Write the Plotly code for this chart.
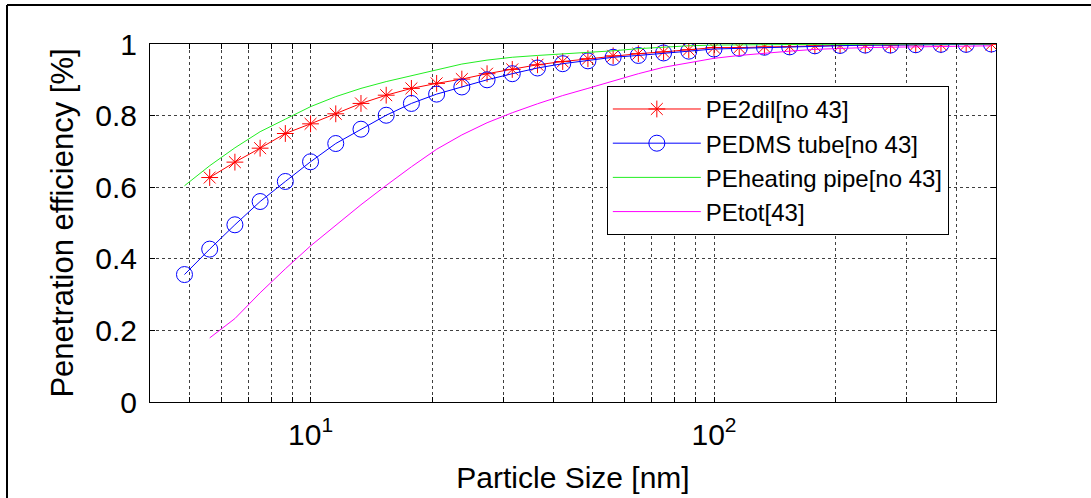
import numpy as np
import plotly.graph_objects as go

# Particle sizes: 16 channels per decade (nm)
k_blue = list(range(-5, 28))
k_red = list(range(-4, 28))
size_blue = [10 ** (1 + k / 16) for k in k_blue]
size_red = [10 ** (1 + k / 16) for k in k_red]
size_green = size_blue
size_mag = size_red

pe2dil = [0.627, 0.670, 0.709, 0.750, 0.777, 0.805, 0.834, 0.857, 0.876, 0.890,
          0.902, 0.917, 0.929, 0.942, 0.951, 0.959, 0.967, 0.973, 0.978, 0.984,
          0.990, 0.990, 0.992, 0.993, 0.995, 0.996, 0.997, 0.997, 0.998, 0.998,
          0.999, 0.999]
pedms = [0.356, 0.427, 0.495, 0.560, 0.616, 0.671, 0.722, 0.762, 0.801, 0.834,
         0.860, 0.880, 0.900, 0.917, 0.933, 0.945, 0.953, 0.963, 0.968, 0.975,
         0.980, 0.986, 0.988, 0.991, 0.992, 0.995, 0.996, 0.997, 0.997, 0.998,
         0.999, 0.999, 1.0]
peheat = [0.604, 0.660, 0.710, 0.755, 0.790, 0.825, 0.853, 0.876, 0.895, 0.912,
          0.927, 0.944, 0.955, 0.963, 0.968, 0.972, 0.976, 0.981, 0.987, 0.992,
          0.995, 0.997, 0.998, 0.998, 0.999, 0.999, 0.999, 1.0, 1.0, 1.0,
          1.0, 1.0, 1.0]
petot = [0.179, 0.233, 0.305, 0.372, 0.436, 0.494, 0.551, 0.605, 0.657, 0.706,
         0.746, 0.780, 0.808, 0.833, 0.856, 0.876, 0.897, 0.917, 0.935, 0.948,
         0.960, 0.968, 0.975, 0.980, 0.985, 0.988, 0.990, 0.991, 0.992, 0.993,
         0.994, 0.995]

x_tickvals = [5, 6, 7, 8, 9, 10, 20, 30, 40, 50, 60, 70, 80, 90, 100, 200, 300, 400]
x_ticktext = ["" if v not in (10, 100) else ("10<sup>1</sup>" if v == 10 else "10<sup>2</sup>")
              for v in x_tickvals]
y_tickvals = [0, 0.2, 0.4, 0.6, 0.8, 1]
y_ticktext = ["0", "0.2", "0.4", "0.6", "0.8", "1"]

FONT = "Arial, Liberation Sans, sans-serif"

fig = go.Figure()
fig.add_trace(go.Scatter(
    x=size_red, y=pe2dil, name="PE2dil[no 43]", mode="lines+markers", legendgroup="a",
    line=dict(color="#ff0000", width=1),
    marker=dict(symbol="asterisk-open", size=14, line=dict(color="#ff0000", width=1))))
fig.add_trace(go.Scatter(
    x=size_blue, y=pedms, name="PEDMS tube[no 43]", mode="lines+markers", legendgroup="b",
    line=dict(color="#0000ff", width=1),
    marker=dict(symbol="circle-open", size=16, line=dict(color="#0000ff", width=1))))
fig.add_trace(go.Scatter(
    x=size_green, y=peheat, name="PEheating pipe[no 43]", mode="lines", legendgroup="c",
    line=dict(color="#22ee22", width=1)))
fig.add_trace(go.Scatter(
    x=size_mag, y=petot, name="PEtot[43]", mode="lines", legendgroup="d",
    line=dict(color="#ff00ff", width=1)))

axis_common = dict(
    showline=True, linecolor="black", linewidth=1, mirror="ticks",
    ticks="inside", ticklen=5, tickcolor="black", tickwidth=1,
    showgrid=True, gridcolor="rgba(0,0,0,0.75)", gridwidth=1, griddash="dot",
    zeroline=False, tickfont=dict(family=FONT, size=30, color="black"),
    automargin=False,
)

fig.update_xaxes(
    type="log", range=[np.log10(4), np.log10(500)],
    tickmode="array", tickvals=x_tickvals, ticktext=x_ticktext,
    title=dict(text="Particle Size [nm]", font=dict(family=FONT, size=30, color="black"), standoff=16),
    ticklabelstandoff=6,
    **axis_common)
fig.update_yaxes(
    range=[0, 1], tickmode="array", tickvals=y_tickvals, ticktext=y_ticktext,
    title=dict(text="Penetration efficiency [%]", font=dict(family=FONT, size=31, color="black"), standoff=12),
    ticklabelstandoff=6,
    **axis_common)

fig.update_layout(
    width=1091, height=498,
    margin=dict(l=150, r=95, t=44, b=96),
    paper_bgcolor="white", plot_bgcolor="white",
    font=dict(family=FONT, color="black"),
    legend=dict(
        x=0.540, y=0.883, xanchor="left", yanchor="top",
        bgcolor="white", bordercolor="black", borderwidth=1,
        font=dict(family=FONT, size=24, color="black"),
        tracegroupgap=0, itemwidth=88,
    ),
    shapes=[
        dict(type="line", xref="paper", yref="paper",
             x0=(7 - 150) / 846, x1=(1091 - 150) / 846,
             y0=(402 - 5) / 358, y1=(402 - 5) / 358,
             line=dict(color="black", width=2)),
        dict(type="line", xref="paper", yref="paper",
             x0=(7 - 150) / 846, x1=(7 - 150) / 846,
             y0=(402 - 498) / 358, y1=(402 - 5) / 358,
             line=dict(color="black", width=2)),
    ],
)

fig.write_html("out.html")
